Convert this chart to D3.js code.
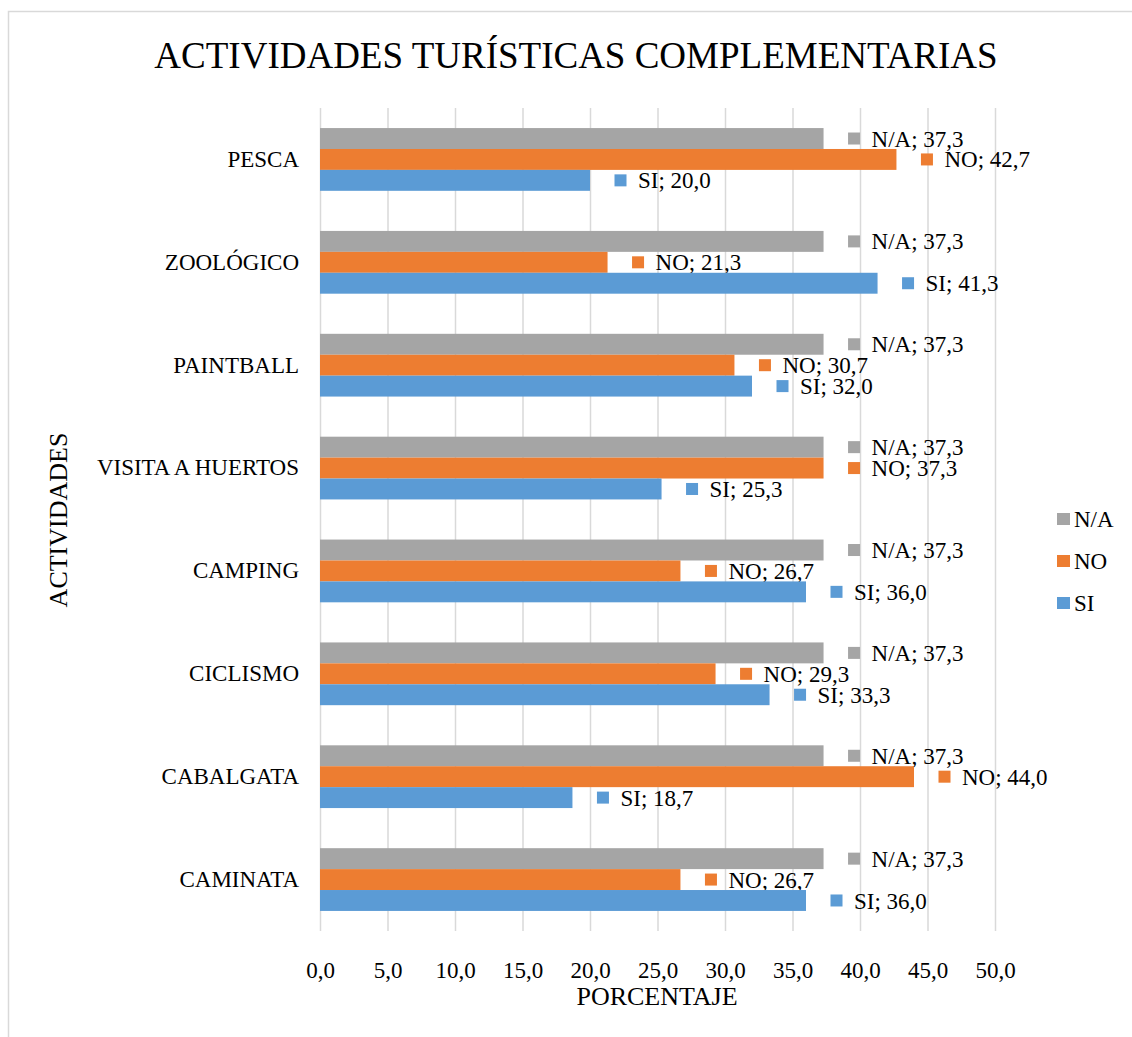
<!DOCTYPE html>
<html>
<head>
<meta charset="utf-8">
<script src="https://cdn.jsdelivr.net/npm/d3@7"></script>
<style>
  html, body { margin: 0; padding: 0; background: #fff; }
  svg { display: block; }
  svg text { font-family: "Liberation Serif", "Times New Roman", serif; fill: #000; }
</style>
</head>
<body>
<svg id="chart" width="1132" height="1037"></svg>
<script>
// Activities, top to bottom
const categories = ["PESCA", "ZOOLÓGICO", "PAINTBALL", "VISITA A HUERTOS", "CAMPING", "CICLISMO", "CABALGATA", "CAMINATA"];
// Series, in the order they are stacked inside each group (top to bottom)
const seriesNames = ["N/A", "NO", "SI"];
const seriesColors = ["#a5a5a5", "#ed7d31", "#5b9bd5"];
// Percentages per activity
const valuesNA = [37.3, 37.3, 37.3, 37.3, 37.3, 37.3, 37.3, 37.3];
const valuesNO = [42.7, 21.3, 30.7, 37.3, 26.7, 29.3, 44.0, 26.7];
const valuesSI = [20.0, 41.3, 32.0, 25.3, 36.0, 33.3, 18.7, 36.0];
const xTicks = [0, 5, 10, 15, 20, 25, 30, 35, 40, 45, 50];

const seriesValues = [valuesNA, valuesNO, valuesSI];
const fmt = v => v.toFixed(1).replace(".", ",");
const SERIF = "'Liberation Serif', 'Times New Roman', serif";

const svg = d3.select("#chart");
const W = 1132, H = 1037;
const plot = { left: 320, right: 995, top: 108, bottom: 931 };

// chart frame
svg.append("rect")
  .attr("x", 8.5).attr("y", 11.5)
  .attr("width", W + 20).attr("height", H + 20)
  .attr("fill", "#fff").attr("stroke", "#d9d9d9").attr("stroke-width", 1.5);

const x = d3.scaleLinear().domain([0, 50]).range([plot.left, plot.right]);
const y = d3.scaleBand().domain(categories).range([plot.top, plot.bottom])
  .paddingInner(0.39).paddingOuter(0.195);
const ySub = d3.scaleBand().domain(seriesNames).range([0, y.bandwidth()]);

// vertical gridlines + tick labels
const xAxis = svg.append("g")
  .attr("transform", `translate(0,${plot.bottom})`)
  .call(d3.axisBottom(x).tickValues(xTicks).tickFormat(fmt)
    .tickSize(-(plot.bottom - plot.top)).tickPadding(31));
xAxis.attr("font-family", SERIF);
xAxis.select(".domain").remove();
xAxis.selectAll(".tick line").attr("stroke", "#d9d9d9").attr("stroke-width", 1.5);
xAxis.selectAll(".tick text").attr("font-size", 23).attr("fill", "#000")
  .style("font-family", SERIF);

// category axis
const yAxis = svg.append("g")
  .attr("transform", `translate(${plot.left},0)`)
  .call(d3.axisLeft(y).tickSize(0).tickPadding(21));
yAxis.attr("font-family", SERIF);
yAxis.select(".domain").remove();
yAxis.selectAll(".tick text").attr("font-size", 23).attr("fill", "#000")
  .style("font-family", SERIF);

// bars and value labels
const rows = [];
categories.forEach((c, i) => {
  seriesNames.forEach((s, j) => {
    rows.push({ cat: c, series: s, color: seriesColors[j], value: seriesValues[j][i] });
  });
});

const groups = svg.append("g").selectAll("g.bar")
  .data(rows).join("g").attr("class", "bar");

groups.append("rect")
  .attr("x", x(0))
  .attr("y", d => y(d.cat) + ySub(d.series))
  .attr("width", d => x(d.value) - x(0))
  .attr("height", ySub.bandwidth())
  .attr("fill", d => d.color);

groups.append("rect")
  .attr("x", d => x(d.value) + 24.5)
  .attr("y", d => y(d.cat) + ySub(d.series) + ySub.bandwidth() / 2 - 6)
  .attr("width", 12).attr("height", 12)
  .attr("fill", d => d.color);

groups.append("text")
  .attr("x", d => x(d.value) + 48)
  .attr("y", d => y(d.cat) + ySub(d.series) + ySub.bandwidth() / 2)
  .attr("dy", "0.35em")
  .attr("font-size", 23)
  .style("font-family", SERIF)
  .text(d => `${d.series}; ${fmt(d.value)}`);

// title
svg.append("text")
  .attr("x", 576).attr("y", 68)
  .attr("text-anchor", "middle")
  .attr("font-size", 37)
  .style("font-family", SERIF)
  .text("ACTIVIDADES TURÍSTICAS COMPLEMENTARIAS");

// axis titles
svg.append("text")
  .attr("x", 657).attr("y", 1005)
  .attr("text-anchor", "middle")
  .attr("font-size", 26)
  .style("font-family", SERIF)
  .text("PORCENTAJE");

svg.append("text")
  .attr("transform", "translate(67,520) rotate(-90)")
  .attr("text-anchor", "middle")
  .attr("font-size", 26)
  .style("font-family", SERIF)
  .text("ACTIVIDADES");

// legend
const legend = svg.append("g").selectAll("g")
  .data(seriesNames).join("g")
  .attr("transform", (d, i) => `translate(1057,${519 + i * 42})`);
legend.append("rect")
  .attr("x", 0).attr("y", -6).attr("width", 13).attr("height", 12)
  .attr("fill", (d, i) => seriesColors[i]);
legend.append("text")
  .attr("x", 17).attr("dy", "0.35em")
  .attr("font-size", 23)
  .style("font-family", SERIF)
  .text(d => d);
</script>
</body>
</html>
